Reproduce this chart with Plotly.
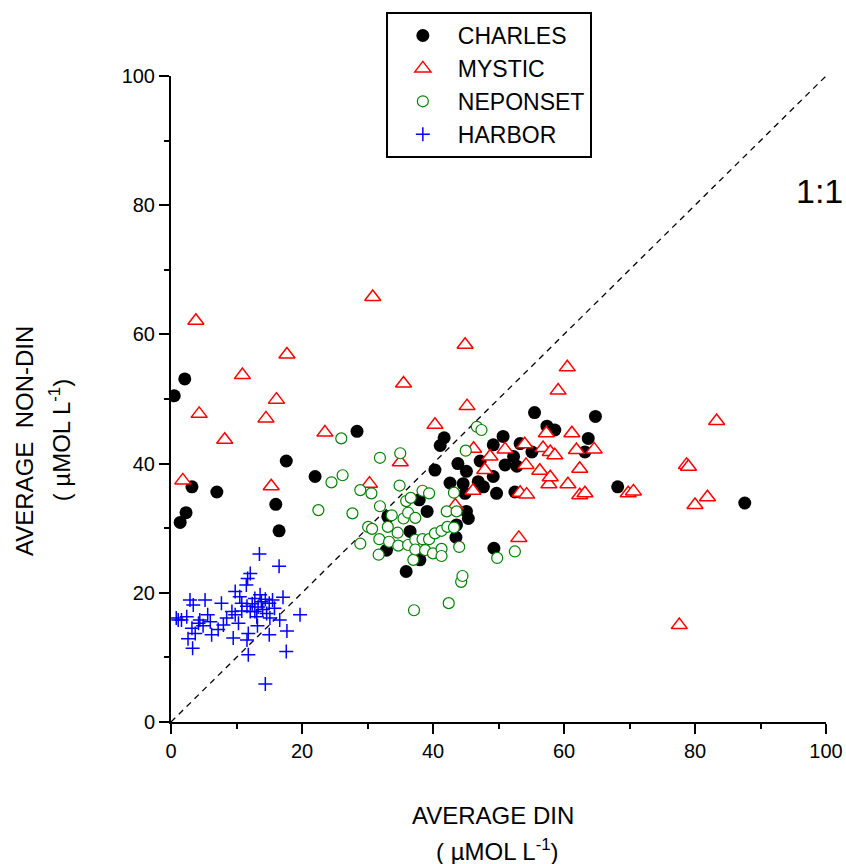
import plotly.graph_objects as go

# Average DIN (x) and average non-DIN (y), umol/L, by station group
charles_din = [0.5, 2.1, 1.4, 2.3, 3.2, 7.0, 16.0, 16.5, 17.6, 22.0, 28.4, 32.9, 33.1,
               35.9, 36.5, 37.9, 38.0, 39.1, 40.3, 41.1, 41.7, 42.6, 43.5, 43.6, 43.8,
               44.6, 44.9, 45.1, 45.1, 45.4, 46.9, 47.2, 47.7, 49.2, 49.2, 49.3, 49.7,
               50.7, 51.0, 52.3, 52.5, 52.8, 53.3, 55.1, 55.5, 57.4, 58.6, 63.2, 63.7,
               64.8, 68.2, 87.6]
charles_nondin = [50.5, 53.1, 30.9, 32.4, 36.4, 35.6, 33.7, 29.6, 40.4, 38.0, 45.0, 26.6, 31.8,
                  23.3, 29.5, 34.4, 25.1, 32.6, 39.0, 42.8, 44.0, 37.0, 28.6, 30.5, 40.0,
                  36.9, 35.4, 38.8, 32.6, 31.5, 37.2, 40.4, 36.4, 42.9, 38.0, 26.9, 35.4,
                  44.2, 39.8, 41.1, 35.6, 39.6, 43.1, 41.8, 47.9, 45.8, 45.2, 41.8, 43.9,
                  47.3, 36.4, 33.9]

mystic_din = [1.8, 3.8, 4.3, 8.2, 10.9, 14.5, 15.3, 16.1, 17.7, 23.5, 30.3, 30.8, 35.0,
              35.5, 40.3, 43.4, 44.9, 45.2, 46.1, 46.2, 47.9, 48.7, 51.0, 53.1, 53.3,
              54.0, 54.2, 54.3, 56.3, 56.8, 57.3, 57.7, 57.9, 57.9, 58.6, 59.1, 60.5,
              60.6, 61.2, 61.9, 62.4, 62.4, 63.2, 64.6, 69.8, 70.6, 77.6, 78.7, 79.0,
              80.0, 81.9, 83.3]
mystic_nondin = [37.4, 62.1, 47.7, 43.7, 53.7, 47.0, 36.5, 49.9, 56.9, 44.8, 36.9, 65.8, 40.2,
                 52.4, 46.0, 33.5, 58.4, 48.9, 35.8, 42.3, 39.0, 41.1, 42.2, 28.5, 35.5,
                 43.0, 39.8, 35.2, 38.9, 42.4, 44.7, 36.8, 37.9, 41.8, 41.3, 51.3, 54.9,
                 36.8, 44.7, 42.1, 39.2, 35.1, 35.4, 42.2, 35.4, 35.7, 15.0, 39.8, 39.5,
                 33.6, 34.8, 46.6]

neponset_din = [22.5, 24.5, 26.0, 26.2, 27.7, 28.9, 28.9, 30.1, 30.6, 30.7, 31.7, 31.8,
                31.9, 31.9, 33.1, 33.3, 33.7, 34.6, 34.7, 34.9, 35.0, 35.5, 35.9, 36.2,
                36.2, 36.6, 37.0, 37.1, 37.3, 37.3, 37.3, 38.4, 38.4, 38.8, 39.4, 39.4,
                40.0, 40.3, 41.3, 41.3, 41.3, 42.1, 42.2, 42.4, 43.2, 43.2, 43.6, 44.0,
                44.3, 44.5, 45.0, 46.7, 47.4, 49.8, 52.5]
neponset_nondin = [32.8, 37.1, 43.9, 38.2, 32.3, 35.9, 27.6, 30.2, 35.4, 29.9, 25.9, 28.3,
                   40.9, 33.4, 30.2, 27.9, 32.0, 29.3, 27.3, 36.6, 41.6, 31.5, 34.2, 32.4,
                   27.4, 34.7, 25.1, 17.3, 31.6, 28.2, 26.7, 35.8, 28.3, 26.6, 35.4, 28.3,
                   26.1, 29.2, 29.6, 26.8, 25.7, 32.6, 30.2, 18.4, 30.1, 35.5, 32.6, 27.1,
                   21.7, 22.6, 42.0, 45.7, 45.2, 25.4, 26.4]

harbor_din = [0.8, 1.1, 1.6, 2.4, 2.6, 2.9, 3.2, 3.3, 3.4, 3.7, 4.2, 4.4, 4.9, 5.2, 5.6,
              6.0, 6.2, 7.2, 7.7, 8.0, 8.5, 9.3, 9.5, 9.8, 9.8, 10.3, 10.5, 10.8, 10.8,
              11.5, 11.6, 11.6, 11.7, 11.8, 11.8, 12.1, 12.1, 12.4, 12.8, 12.8, 13.1,
              13.2, 13.3, 13.5, 13.6, 13.8, 14.0, 14.4, 14.4, 14.6, 15.0, 15.0, 15.1,
              15.5, 15.8, 16.5, 16.6, 17.1, 17.6, 17.7, 19.7]
harbor_nondin = [16.1, 15.8, 15.8, 16.3, 12.9, 18.9, 14.5, 11.4, 18.1, 13.7, 15.3, 15.8, 14.9,
                 18.9, 16.6, 15.5, 13.5, 14.3, 18.4, 15.0, 16.1, 17.1, 13.0, 16.6, 20.2,
                 15.3, 19.4, 17.2, 18.4, 21.2, 17.9, 12.7, 22.2, 13.7, 10.4, 23.0, 17.1,
                 18.3, 19.1, 17.1, 16.3, 14.9, 17.8, 26.0, 19.7, 18.6, 17.4, 19.0, 5.9,
                 16.8, 18.4, 13.5, 16.1, 18.9, 17.6, 24.1, 15.8, 19.3, 10.9, 14.1, 16.6]

axis_ticks = [0, 20, 40, 60, 80, 100]
one_to_one = [0, 100]

FONT = "Liberation Sans, Arial, sans-serif"

fig = go.Figure()

fig.add_trace(go.Scatter(
    x=one_to_one, y=one_to_one, mode="lines", showlegend=False, hoverinfo="skip",
    line=dict(color="black", width=1.3, dash="6px,5px"),
))
fig.add_trace(go.Scatter(
    x=charles_din, y=charles_nondin, mode="markers", name="CHARLES",
    marker=dict(symbol="circle", size=13, color="black", line=dict(width=0)),
))
fig.add_trace(go.Scatter(
    x=mystic_din, y=mystic_nondin, mode="markers", name="MYSTIC",
    marker=dict(symbol="triangle-up", size=14, color="white",
                line=dict(color="#ff0000", width=1.5)),
))
fig.add_trace(go.Scatter(
    x=neponset_din, y=neponset_nondin, mode="markers", name="NEPONSET",
    marker=dict(symbol="circle", size=11, color="white",
                line=dict(color="#008000", width=1.2)),
))
fig.add_trace(go.Scatter(
    x=harbor_din, y=harbor_nondin, mode="markers", name="HARBOR",
    marker=dict(symbol="cross-thin-open", size=10, color="#0000ff",
                line=dict(color="#0000ff", width=1.5)),
))

axis_common = dict(
    range=[0, 100], tickvals=axis_ticks, ticks="outside", ticklen=10, tickwidth=2,
    tickcolor="black", showline=True, linecolor="black", linewidth=2, automargin=False,
    showgrid=False, zeroline=False, tickfont=dict(family=FONT, size=20, color="black"),
    minor=dict(dtick=10, ticks="outside", ticklen=5, tickwidth=2, tickcolor="black"),
)
fig.update_xaxes(**axis_common)
fig.update_yaxes(**axis_common)

title_font = dict(family=FONT, size=24, color="black")
fig.add_annotation(text="AVERAGE DIN", xref="paper", yref="paper", x=0.4916, y=-0.144,
                   xanchor="center", yanchor="middle", showarrow=False, font=title_font)
fig.add_annotation(text="( µMOL L<sup>-1</sup>)", xref="paper", yref="paper", x=0.498, y=-0.198,
                   xanchor="center", yanchor="middle", showarrow=False, font=title_font)
fig.add_annotation(text="AVERAGE  NON-DIN", xref="paper", yref="paper", x=-0.223, y=0.435,
                   xanchor="center", yanchor="middle", textangle=-90, showarrow=False,
                   font=title_font)
fig.add_annotation(text="( µMOL L<sup>-1</sup>)", xref="paper", yref="paper", x=-0.170, y=0.437,
                   xanchor="center", yanchor="middle", textangle=-90, showarrow=False,
                   font=title_font)
fig.add_annotation(text="1:1", xref="paper", yref="paper", x=(819 - 171) / 655,
                   y=(722 - 191) / 646, xanchor="center", yanchor="middle",
                   showarrow=False, font=dict(family=FONT, size=34, color="black"))

fig.update_layout(
    width=846, height=864,
    margin=dict(l=171, r=20, t=76, b=142, autoexpand=False),
    plot_bgcolor="white", paper_bgcolor="white",
    legend=dict(
        x=0.328, y=1.099, xanchor="left", yanchor="top",
        bgcolor="white", bordercolor="black", borderwidth=2,
        font=dict(family=FONT, size=23, color="black"),
        itemwidth=60, tracegroupgap=0,
    ),
)

fig.write_html("out.html")
